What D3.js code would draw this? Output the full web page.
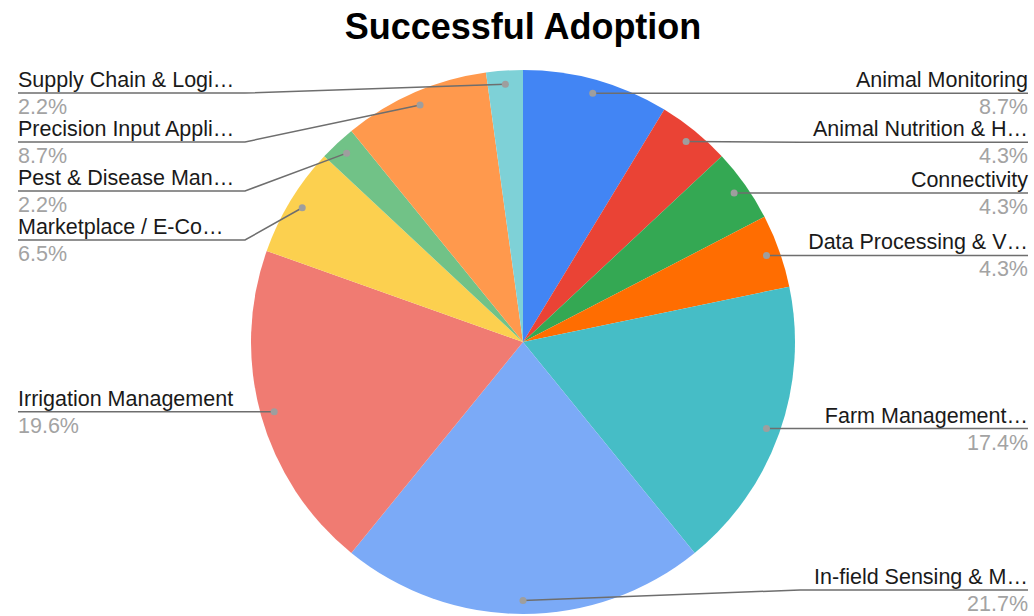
<!DOCTYPE html>
<html>
<head>
<meta charset="utf-8">
<script src="https://cdn.jsdelivr.net/npm/d3@7"></script>
<style>
  html, body { margin: 0; padding: 0; background: #fff; }
  svg { display: block; }
  text { font-family: "Liberation Sans", Arial, sans-serif; }
</style>
</head>
<body>
<svg id="chart" width="1034" height="616"></svg>
<script>
const title = "Successful Adoption";
const categories = [
  "Animal Monitoring",
  "Animal Nutrition & H…",
  "Connectivity",
  "Data Processing & V…",
  "Farm Management…",
  "In-field Sensing & M…",
  "Irrigation Management",
  "Marketplace / E-Co…",
  "Pest & Disease Man…",
  "Precision Input Appli…",
  "Supply Chain & Logi…"
];
const counts = [4, 2, 2, 2, 8, 10, 9, 3, 1, 4, 1];
const colors = ["#4285f4", "#ea4335", "#34a853", "#ff6d01", "#46bdc6", "#7baaf7",
                "#f07b72", "#fcd04f", "#71c287", "#ff994d", "#7ed1d7"];

const W = 1034, H = 616;
const cx = 523, cy = 342, R = 272;
const svg = d3.select("#chart");

svg.append("text")
  .attr("x", cx).attr("y", 39)
  .attr("text-anchor", "middle")
  .attr("font-size", 36).attr("font-weight", "bold")
  .attr("fill", "#000")
  .text(title);

const data = categories.map((c, i) => ({ name: c, value: counts[i], color: colors[i] }));
const total = d3.sum(counts);
const pie = d3.pie().value(d => d.value).sort(null);
const arcs = pie(data);
const arc = d3.arc().innerRadius(0).outerRadius(R);
const dotArc = d3.arc().innerRadius(R * 0.95).outerRadius(R * 0.95);

const g = svg.append("g").attr("transform", `translate(${cx},${cy})`);
g.selectAll("path.slice").data(arcs).enter().append("path")
  .attr("class", "slice")
  .attr("d", arc)
  .attr("fill", d => d.data.color);

// label layout
const items = arcs.map(a => {
  const [x, y] = dotArc.centroid(a);
  const mid = (a.startAngle + a.endAngle) / 2;
  return { a, dx: cx + x, dy: cy + y, right: mid <= Math.PI + 1e-6 };
});
const gap = 49, topMin = 93, botMax = 590;
["right", "left"].forEach(side => {
  const list = items.filter(d => (side === "right") === d.right).sort((p, q) => p.dy - q.dy);
  let prev = -Infinity;
  list.forEach(d => {
    d.ly = Math.min(botMax, Math.max(d.dy, prev + gap, topMin));
    prev = d.ly;
  });
});

const fmt = v => (v / total * 100).toFixed(1) + "%";
const leftEdge = 18, rightEdge = 1028, leftBend = 245, rightBend = 800;

const lg = svg.append("g");
items.forEach(d => {
  const edge = d.right ? rightEdge : leftEdge;
  const bend = d.right ? rightBend : leftBend;
  lg.append("path")
    .attr("d", d3.line()([[d.dx, d.dy], [bend, d.ly], [edge, d.ly]]))
    .attr("fill", "none").attr("stroke", "#6e6e6e").attr("stroke-width", 1.5);
  lg.append("circle").attr("cx", d.dx).attr("cy", d.dy).attr("r", 3.5).attr("fill", "#9e9e9e");
  const anchor = d.right ? "end" : "start";
  lg.append("text").attr("x", edge).attr("y", d.ly - 6)
    .attr("text-anchor", anchor).attr("font-size", 21.5).attr("fill", "#1a1a1a")
    .text(d.a.data.name);
  lg.append("text").attr("x", edge).attr("y", d.ly + 21)
    .attr("text-anchor", anchor).attr("font-size", 21.5).attr("fill", "#a3a3a3")
    .text(fmt(d.a.data.value));
});
</script>
</body>
</html>
